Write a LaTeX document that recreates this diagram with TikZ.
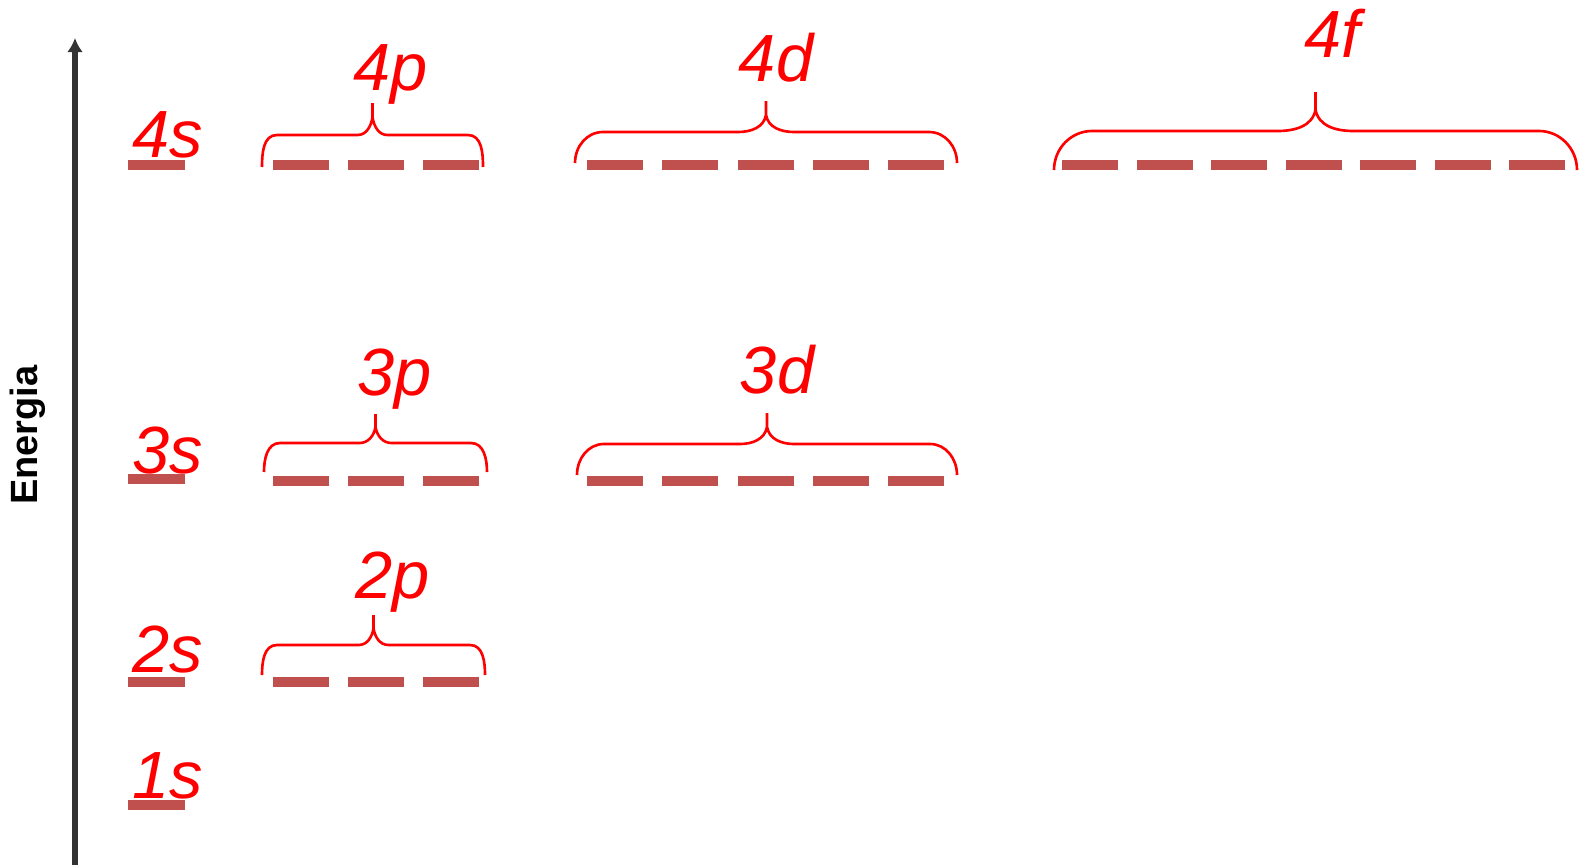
\documentclass[tikz,border=0pt]{standalone}
\usepackage{fontspec}
\setmainfont{Liberation Sans}
\usepackage{xcolor}
\usetikzlibrary{arrows.meta}
\definecolor{orbitalred}{RGB}{192,80,77}
\definecolor{levelred}{RGB}{255,0,0}
\definecolor{axisgray}{RGB}{51,51,51}

% brace over a subshell: left x, right x, bottom y, end height, corner width
\newcommand{\levelbrace}[5]{%
  \pgfmathsetmacro{\xm}{(#1+#2)/2}
  \pgfmathsetmacro{\yh}{#3+#4}
  \draw[brace line] (#1,#3) to[out=90,in=180] (#1+#5,\yh) -- (\xm-#5,\yh)
    to[out=0,in=-100] (\xm,\yh+0.55*#4) -- (\xm,\yh+#4)
    (\xm,\yh+0.55*#4) to[out=-80,in=180] (\xm+#5,\yh) -- (#2-#5,\yh)
    to[out=0,in=90] (#2,#3);
}

\begin{document}
\begin{tikzpicture}[
    orbital line/.style={draw=orbitalred, line width=2.6pt},
    brace line/.style={draw=levelred, line width=0.75pt},
    level label/.style={text=levelred, inner sep=0pt, font=\fontsize{19}{22}\selectfont\itshape}
  ]
  \useasboundingbox (0,0) rectangle (15.85,8.65);

  % Energy axis
  \draw[draw=axisgray, line width=1.8pt, -{Latex[length=4pt,width=4.5pt]}] (0.75,0) -- (0.75,8.27);
  \node[rotate=90, font=\fontsize{10.8}{13}\selectfont\bfseries] (energia) at (0.28,4.30) {Energia};

  % s levels
  \foreach \y/\b/\n in {7.00/7.08/4, 3.86/3.92/3, 1.83/1.93/2, 0.60/0.67/1} {
    \draw[orbital line] (1.28,\y) -- (1.85,\y);
    \node[level label, anchor=base west] (s\n) at (1.32,\b) {\n s};
  }

  % p levels
  \foreach \y in {7.00, 3.84, 1.83} {
    \foreach \i in {0,1,2}
      \draw[orbital line] (2.73+\i*0.75,\y) -- ++(0.56,0);
  }
  \levelbrace{2.62}{4.83}{6.98}{0.32}{0.15}
  \levelbrace{2.64}{4.87}{3.93}{0.29}{0.16}
  \levelbrace{2.62}{4.85}{1.90}{0.30}{0.15}
  \node[level label, anchor=base] (p4) at (3.91,7.75) {4p};
  \node[level label, anchor=base] (p3) at (3.95,4.70) {3p};
  \node[level label, anchor=base] (p2) at (3.93,2.67) {2p};

  % d levels
  \foreach \y in {7.00, 3.84} {
    \foreach \i in {0,...,4}
      \draw[orbital line] (5.87+\i*0.753,\y) -- ++(0.56,0);
  }
  \levelbrace{5.75}{9.57}{7.02}{0.31}{0.28}
  \levelbrace{5.77}{9.57}{3.90}{0.31}{0.27}
  \node[level label, anchor=base] (d4) at (7.76,7.83) {4d};
  \node[level label, anchor=base] (d3) at (7.77,4.72) {3d};

  % f level
  \foreach \i in {0,...,6}
    \draw[orbital line] (10.62+\i*0.745,7.00) -- ++(0.56,0);
  \levelbrace{10.54}{15.77}{6.95}{0.39}{0.38}
  \node[level label, anchor=base] (f4) at (13.32,8.08) {4f};

\end{tikzpicture}
\end{document}
